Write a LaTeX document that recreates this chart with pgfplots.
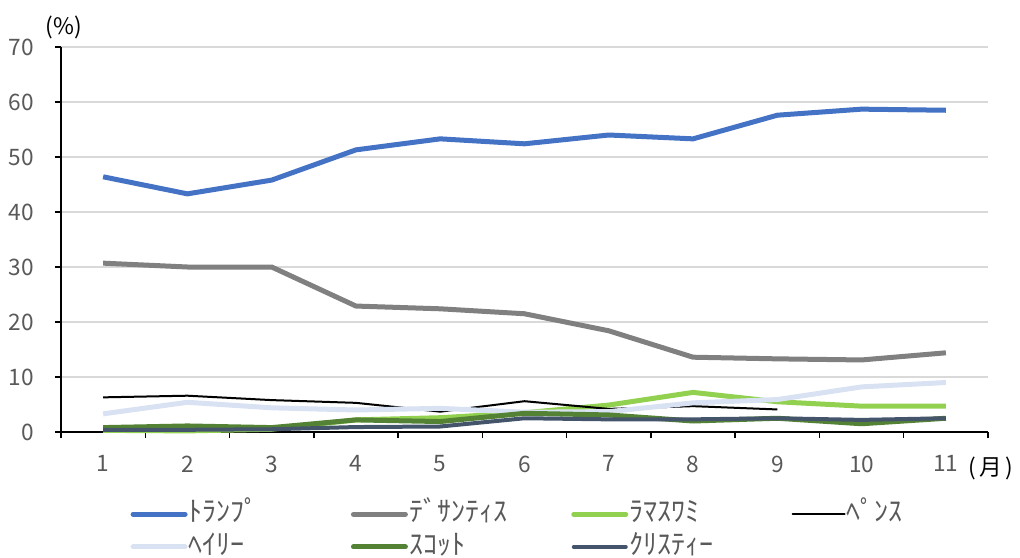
\documentclass[border=0pt]{standalone}
\usepackage{fontspec}
\setmainfont{Noto Sans CJK JP}
\usepackage{pgfplots}
\pgfplotsset{compat=1.18}
\definecolor{cTrump}{HTML}{4472C4}
\definecolor{cDeS}{HTML}{808080}
\definecolor{cRama}{HTML}{92D050}
\definecolor{cHaley}{HTML}{D9E2F3}
\definecolor{cScott}{HTML}{548235}
\definecolor{cChris}{HTML}{44546A}
\definecolor{cText}{HTML}{595959}
\definecolor{cGrid}{HTML}{D9D9D9}
\begin{document}
\fontsize{17pt}{20pt}\selectfont
\begin{tikzpicture}
\useasboundingbox (0,0) rectangle (765pt,417.75pt);
\begin{axis}[
  at={(45.75pt,93.75pt)}, anchor=south west,
  scale only axis, width=695.25pt, height=288.75pt,
  xmin=0.5, xmax=11.5, ymin=0, ymax=70,
  axis x line*=bottom, axis y line*=left,
  axis line style={black, line width=1.1pt},
  tick align=outside, major tick length=4.5pt,
  tick style={black, line width=1.1pt},
  xtick={0.5,1.5,...,11.5}, xticklabels={},
  extra x ticks={1,2,...,11},
  extra x tick style={major tick length=0pt, xticklabel style={yshift=-12pt}},
  ytick={0,10,...,70},
  yticklabel style={xshift=-10pt},
  ymajorgrids, major grid style={cGrid, line width=1.1pt},
  tick label style={font=\fontsize{17pt}{20pt}\selectfont, color=cText},
  /pgf/number format/assume math mode=true,
  clip=false,
  legend columns=4,
  legend cell align=left,
  legend style={draw=none, fill=none, at={(rel axis cs:0,0)}, anchor=north west,
    xshift=52pt, yshift=-51pt, inner sep=0pt, row sep=3.5pt,
    nodes={inner sep=1pt, text height=15pt, text depth=4pt},
    font=\fontsize{21pt}{24pt}\selectfont, text=cText},
  legend image code/.code={\draw[#1, line cap=round] (0pt,0pt) -- (39pt,0pt);},
  every axis plot/.append style={line join=round},
]
\addplot[cTrump, line width=3.75pt] coordinates {(1,46.4)(2,43.3)(3,45.8)(4,51.3)(5,53.3)(6,52.4)(7,54.0)(8,53.3)(9,57.6)(10,58.7)(11,58.5)};
\addlegendentry{\makebox[120.5pt][l]{ﾄﾗﾝﾌﾟ}}
\addplot[cDeS, line width=3.75pt] coordinates {(1,30.7)(2,30.0)(3,30.0)(4,22.9)(5,22.4)(6,21.5)(7,18.4)(8,13.6)(9,13.3)(10,13.1)(11,14.4)};
\addlegendentry{\makebox[120.5pt][l]{ﾃﾞｻﾝﾃｨｽ}}
\addplot[cRama, line width=3.75pt] coordinates {(1,0.3)(2,0.2)(3,0.5)(4,2.2)(5,2.6)(6,3.5)(7,4.9)(8,7.2)(9,5.5)(10,4.7)(11,4.7)};
\addlegendentry{\makebox[120.5pt][l]{ﾗﾏｽﾜﾐ}}
\addplot[black, line width=1.5pt] coordinates {(1,6.3)(2,6.6)(3,5.8)(4,5.3)(5,3.7)(6,5.6)(7,4.2)(8,4.7)(9,4.1)};
\addlegendentry{\makebox[60pt][l]{ﾍﾟﾝｽ}}
\addplot[cHaley, line width=3.75pt] coordinates {(1,3.3)(2,5.4)(3,4.4)(4,4.0)(5,4.3)(6,3.6)(7,3.7)(8,5.3)(9,5.9)(10,8.2)(11,9.0)};
\addlegendentry{\makebox[120.5pt][l]{ﾍｲﾘｰ}}
\addplot[cScott, line width=3.75pt] coordinates {(1,0.8)(2,1.1)(3,0.8)(4,2.2)(5,1.9)(6,3.4)(7,3.1)(8,2.0)(9,2.5)(10,1.5)(11,2.5)};
\addlegendentry{\makebox[120.5pt][l]{ｽｺｯﾄ}}
\addplot[cChris, line width=3pt] coordinates {(1,0.4)(2,0.4)(3,0.5)(4,0.9)(5,1.0)(6,2.5)(7,2.3)(8,2.3)(9,2.5)(10,2.2)(11,2.5)};
\addlegendentry{\makebox[120.5pt][l]{ｸﾘｽﾃｨｰ}}
\node[font=\fontsize{17pt}{20pt}\selectfont, text=black] at ([xshift=2pt, yshift=15pt]rel axis cs:0,1) {(\%)};
\node[font=\fontsize{17pt}{20pt}\selectfont, text=black, anchor=west] at ([yshift=-27pt]rel axis cs:0.970,0) {(\,月\,)};
\end{axis}
\end{tikzpicture}
\end{document}
